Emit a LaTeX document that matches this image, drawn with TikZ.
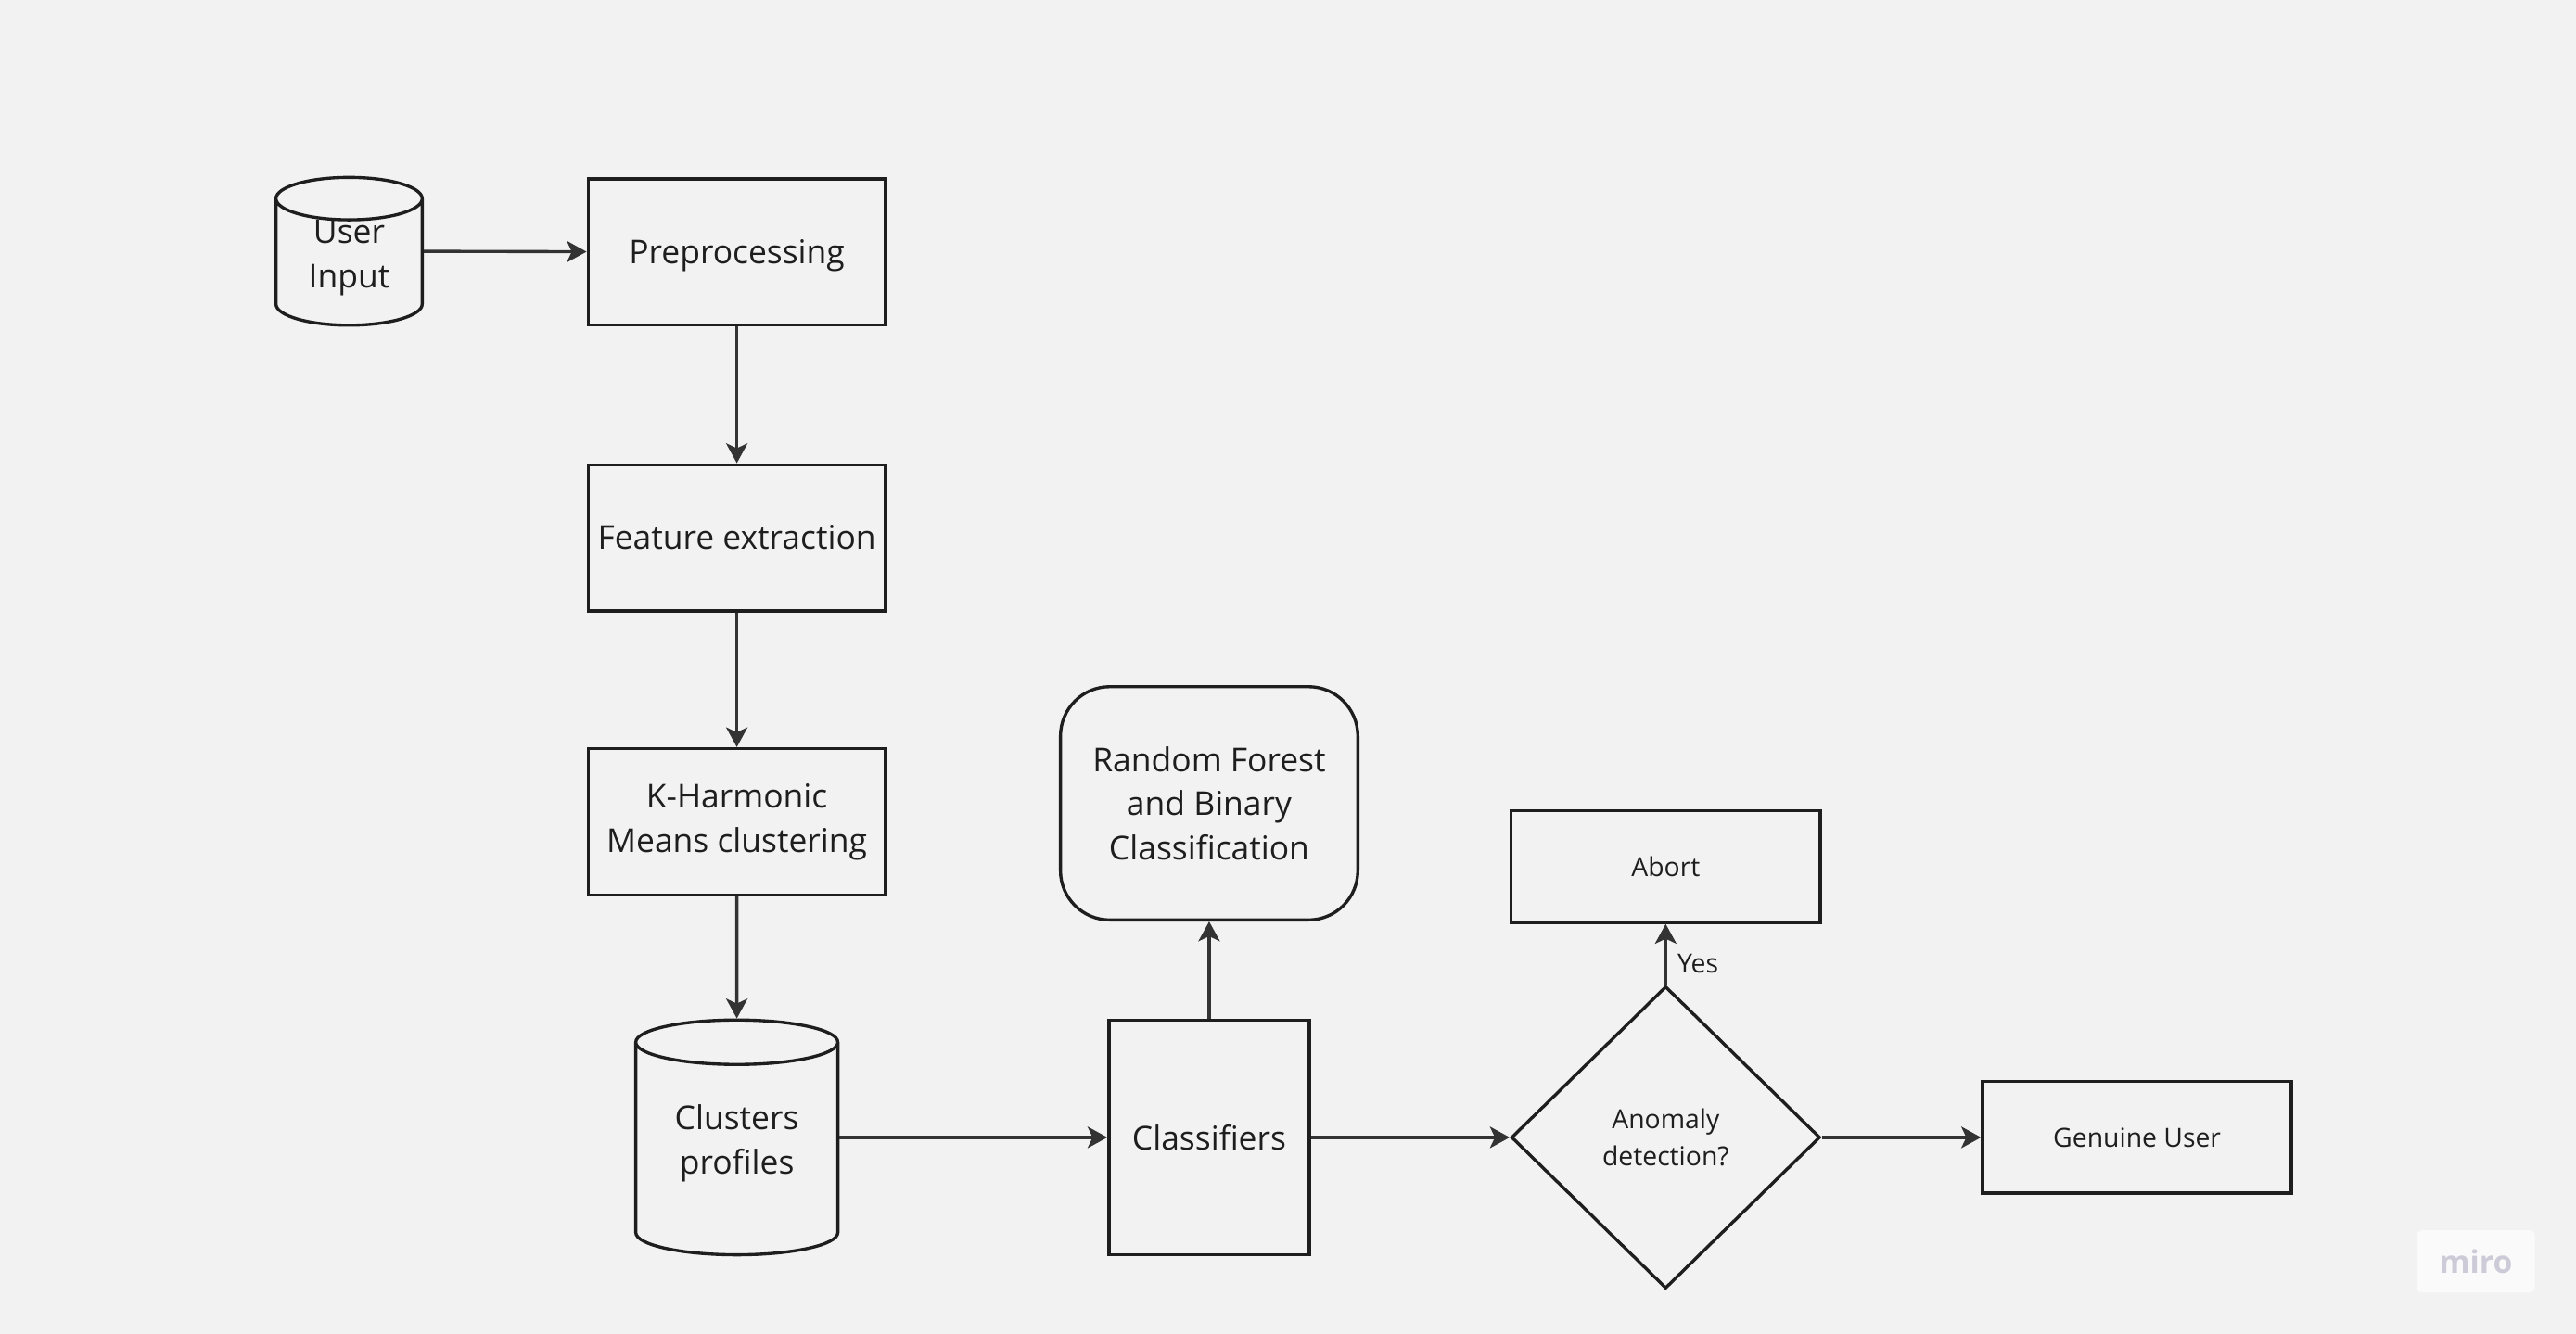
\documentclass[tikz,border=0pt]{standalone}
\usepackage{fontspec}
\setmainfont{Open Sans}
\usetikzlibrary{arrows.meta,shapes,positioning}

\definecolor{bg}{HTML}{F2F2F2}
\definecolor{ink}{HTML}{1E1E1E}
\definecolor{wire}{HTML}{333333}
\definecolor{mark}{HTML}{CDCBD8}

% text of a cylinder, lifted to the middle of the shape
\newcommand{\drumtext}[1]{\raisebox{6pt}[\height][\depth]{\begin{tabular}{@{}c@{}}#1\end{tabular}}}

\begin{document}
\begin{tikzpicture}[
        x=1pt, y=-1pt,
        line width=1.9pt,
        every node/.style={align=center, text=ink, font=\fontsize{20}{27}\selectfont},
        block/.style={draw=ink, minimum width=181pt, minimum height=89pt},
        store/.style={draw=ink, cylinder, shape border rotate=90, anchor=shape center},
        roundblock/.style={draw=ink, rounded corners=30pt, minimum width=181pt, minimum height=142pt},
        decision/.style={draw=ink, diamond, inner sep=0pt, minimum width=188pt, minimum height=184pt, font=\fontsize{16}{23}\selectfont},
        outcome/.style={draw=ink, minimum width=188pt, minimum height=68pt, font=\fontsize{16}{23}\selectfont},
        link/.style={-{Stealth[length=12pt, width=13pt, inset=3pt]}, draw=wire}
    ]

    \fill[bg] (0,0) rectangle (1568,812);
    \useasboundingbox (0,0) rectangle (1568,812);

    % Nodes
      \node[block, text depth=0pt] (prep) at (448.5,153.5) {Preprocessing};
      \node[store, aspect=0.46, inner ysep=0pt, minimum width=89pt, minimum height=90pt] (input) at (212.5,153) {\drumtext{User\\Input}};
      \node[block] (feat)[below=83pt of prep] {Feature extraction};
      \node[block] (khm)[below=82pt of feat] {K-Harmonic\\Means clustering};
      \node[store, aspect=0.33, minimum width=123pt, minimum height=143pt] (profiles) at (448.5,692.5) {\drumtext{Clusters\\profiles}};

      \node[block, minimum width=122pt, minimum height=143pt] (classif) at (736,692.5) {Classifiers};
      \node[roundblock] (forest)[above=59pt of classif] {Random Forest\\and Binary\\Classification};

      \node[decision] (anomaly)[right=121pt of classif] {Anomaly\\detection?};
      \node[outcome] (abort)[above=37pt of anomaly] {Abort};
      \node[outcome] (genuine)[right=97pt of anomaly] {Genuine User};

      \node[fill=white!60!bg, rounded corners=3pt, minimum width=72pt, minimum height=38pt, text=mark, font=\fontsize{19}{22}\bfseries] (miro) at (1507,768) {miro};

    \draw[link] (input.shape center -| input.east) -- (prep);
    \draw[link] (prep) -- (feat);
    \draw[link] (feat) -- (khm);
    \draw[link] (khm) -- (profiles);
    \draw[link] (profiles.shape center -| profiles.east) -- (classif);
    \draw[link] (classif) -- (forest);
    \draw[link] (classif) -- (anomaly);
    \draw[link] (anomaly) -- node[right, pos=0.34, xshift=3pt, font=\fontsize{16}{23}\selectfont] {Yes} (abort);
    \draw[link] (anomaly) -- (genuine);

\end{tikzpicture}
\end{document}
